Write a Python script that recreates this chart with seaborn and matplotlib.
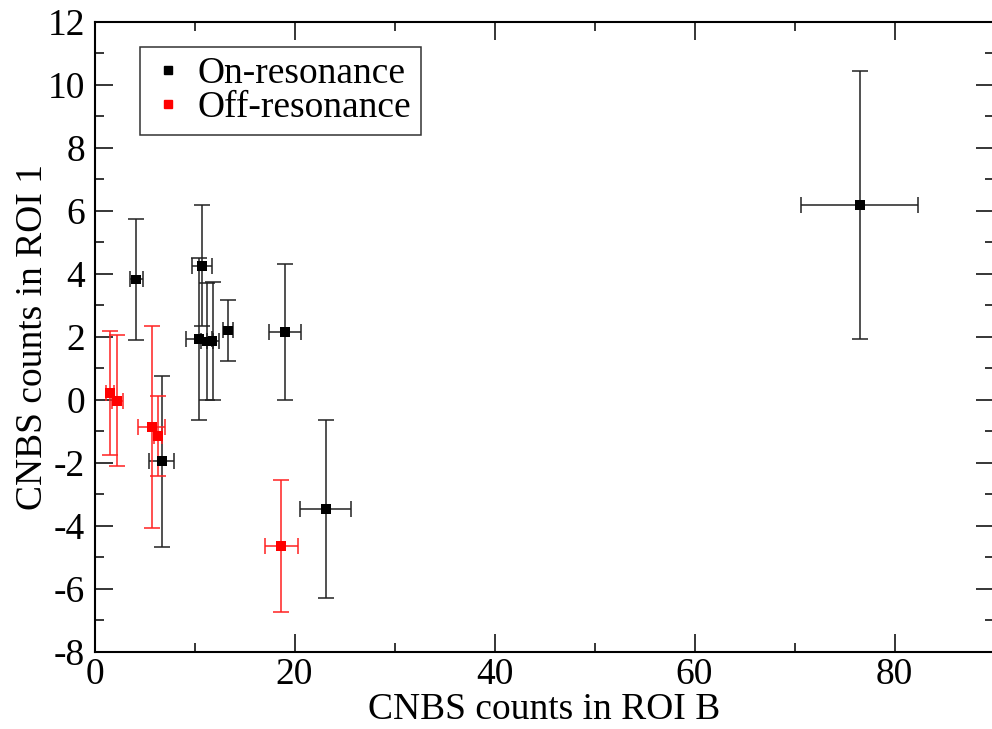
import matplotlib
matplotlib.use("Agg")
import matplotlib.pyplot as plt
import seaborn as sns
import pandas as pd
from matplotlib.ticker import MultipleLocator
from matplotlib.lines import Line2D

# On-resonance data
on_x = [4.18, 10.75, 10.45, 11.2, 11.8, 13.38, 6.72, 19.02, 23.12, 76.52]
on_y = [3.82, 4.26, 1.93, 1.85, 1.87, 2.20, -1.96, 2.15, -3.47, 6.18]
on_xerr = [0.63, 1.0, 1.3, 0.6, 0.6, 0.5, 1.23, 1.58, 2.53, 5.85]
on_yerr = [1.93, 1.93, 2.56, 1.87, 1.87, 0.98, 2.72, 2.16, 2.84, 4.25]

# Off-resonance data
off_x = [1.55, 2.28, 5.72, 6.32, 18.68]
off_y = [0.22, -0.04, -0.87, -1.15, -4.65]
off_xerr = [0.4, 0.55, 1.37, 0.42, 1.68]
off_yerr = [1.97, 2.08, 3.2, 1.27, 2.1]

labels = ["On-resonance", "Off-resonance"]
colors = ["black", "red"]

sns.set_style("ticks")
plt.rcParams['font.family'] = ['Liberation Serif', 'DejaVu Serif']
plt.rcParams['axes.unicode_minus'] = False
plt.rcParams['text.color'] = 'black'
plt.rcParams['axes.labelcolor'] = 'black'
plt.rcParams['xtick.color'] = 'black'
plt.rcParams['ytick.color'] = 'black'

FS = 27

df = pd.DataFrame({
    "x": on_x + off_x,
    "y": on_y + off_y,
    "series": [labels[0]] * len(on_x) + [labels[1]] * len(off_x),
})

fig = plt.figure(figsize=(9.92, 7.29), dpi=100)
ax = fig.add_axes([94.5 / 992, 1 - 651.5 / 729, 900 / 992, 629.5 / 729])

ax.errorbar(on_x, on_y, xerr=on_xerr, yerr=on_yerr, fmt="none", ecolor="#222222",
            elinewidth=1.1, capsize=6, capthick=1.1, zorder=2)
ax.errorbar(off_x, off_y, xerr=off_xerr, yerr=off_yerr, fmt="none", ecolor="#ff2020",
            elinewidth=1.1, capsize=6, capthick=1.1, zorder=2)

sns.scatterplot(data=df, x="x", y="y", hue="series", palette=colors, marker="s",
                s=50, edgecolor="none", linewidth=0, ax=ax, legend=False, zorder=3)

ax.set_xlim(0, 90)
ax.set_ylim(-8, 12)
ax.xaxis.set_major_locator(MultipleLocator(20))
ax.xaxis.set_minor_locator(MultipleLocator(10))
ax.yaxis.set_major_locator(MultipleLocator(2))
ax.yaxis.set_minor_locator(MultipleLocator(1))
ax.tick_params(which="both", direction="in", top=True, right=True, width=1.1, labelsize=FS,
               colors="black")
ax.tick_params(which="major", length=13)
ax.tick_params(which="minor", length=6.5)
ax.tick_params(axis="x", pad=4)
ax.tick_params(axis="y", pad=7)
for s in ax.spines.values():
    s.set_linewidth(1.5)
    s.set_color("black")

ax.set_xlabel("CNBS counts in ROI B", fontsize=FS, labelpad=1, color="black")
ax.set_ylabel("CNBS counts in ROI 1", fontsize=FS, labelpad=-2, color="black")

handles = [Line2D([], [], marker="s", linestyle="none", color=c, markersize=6) for c in colors]
leg = ax.legend(handles, labels, loc="upper left", bbox_to_anchor=(45 / 900, 1 - 25 / 629.5),
                fontsize=FS, frameon=True, fancybox=False, edgecolor="black",
                borderpad=0.25, handletextpad=0.3, handlelength=1.0, labelspacing=0.0,
                borderaxespad=0)
leg.get_frame().set_linewidth(1.1)
for t in leg.get_texts():
    t.set_color("black")

fig.savefig("out.png", dpi=100)
